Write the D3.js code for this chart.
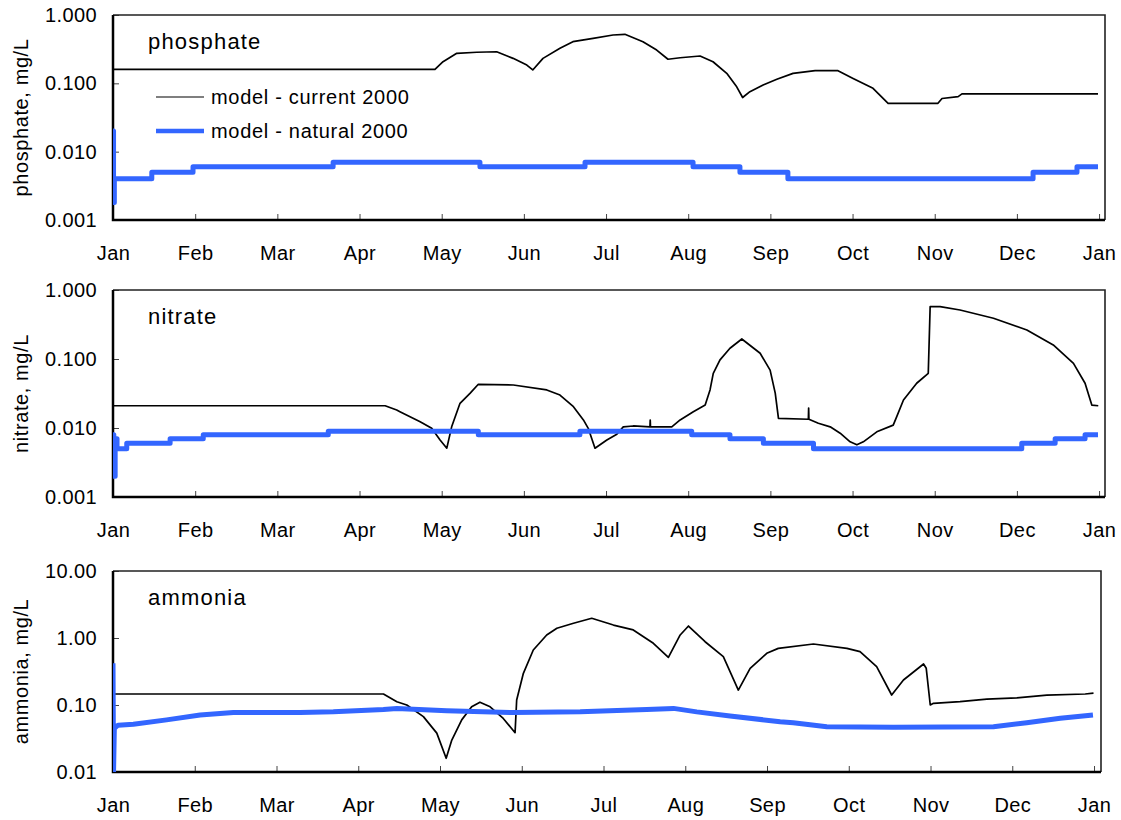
<!DOCTYPE html>
<html>
<head>
<meta charset="utf-8">
<script src="https://cdn.jsdelivr.net/npm/d3@7"></script>
<style>
  body { margin: 0; background: #fff; }
  text { font-family: "Liberation Sans", Arial, sans-serif; fill: #000; }
</style>
</head>
<body>
<div id="chart"></div>
<script>
// tick labels on the date axis (ticks every 30.5 days, as in the original sheet)
const monthLabels = ["Jan","Feb","Mar","Apr","May","Jun","Jul","Aug","Sep","Oct","Nov","Dec","Jan"];
const seriesNames = ["model - current 2000", "model - natural 2000"];

// [day of year 2000, mg/L]
const phosphateCurrent = [
  [0,0.16],[119.5,0.16],[122.5,0.207],[127.6,0.275],[135,0.285],[142.4,0.29],[148.5,0.232],
  [153.6,0.185],[155.8,0.157],[159.6,0.232],[165.9,0.326],[170.7,0.407],[178.2,0.456],
  [185.6,0.51],[190,0.522],[196.7,0.407],[201.8,0.307],[206,0.225],[210.5,0.237],[217.9,0.251],
  [222.7,0.207],[227.8,0.14],[231.5,0.089],[233.7,0.062],[236.4,0.0755],[241.3,0.0946],
  [246.4,0.115],[252.4,0.14],[260.6,0.153],[269.1,0.153],[274.7,0.118],[282.1,0.0846],
  [287.7,0.051],[306.2,0.051],[307.7,0.06],[313.7,0.064],[315.1,0.07],[365.6,0.07]
];
const phosphateNatural = [
  [0,0.02],[0.2,0.0018],[0.5,0.004],[14.4,0.005],[29.7,0.006],[81.7,0.007],[136.2,0.006],
  [175.2,0.007],[215.3,0.006],[232.7,0.005],[250.5,0.004],[341.5,0.005],[357.8,0.006],[365.6,0.006]
];
const nitrateCurrent = [
  [0,0.021],[101,0.021],[105.3,0.0182],[106.5,0.0172],[114,0.0123],[118.3,0.0099],[121.4,0.0067],
  [123.9,0.0051],[125.7,0.0104],[128.8,0.0228],[132.5,0.0318],[135.6,0.043],[148.6,0.042],
  [161,0.0356],[165.9,0.03],[170.9,0.0204],[174.6,0.0131],[176.4,0.0099],[178.9,0.0051],
  [183.3,0.0067],[187,0.0081],[189.4,0.0104],[193.1,0.0107],[199.3,0.0104],[199.4,0.013],
  [199.5,0.0104],[207.4,0.0104],[210.5,0.0131],[215.4,0.0172],[219.8,0.0215],[221.6,0.0356],
  [222.8,0.062],[225.3,0.097],[229,0.143],[233.4,0.195],[240.2,0.121],[243.9,0.069],[245.8,0.032],
  [247,0.0138],[258.1,0.0134],[258.2,0.0195],[258.3,0.0134],[261.8,0.0117],[266.2,0.0104],
  [269.9,0.0084],[273.6,0.0063],[276.1,0.0057],[278.5,0.0063],[283.5,0.0088],[289.6,0.011],
  [290.9,0.0146],[293.4,0.0255],[298.3,0.0445],[302.6,0.062],[303.3,0.573],[307,0.573],
  [314.4,0.513],[326.8,0.389],[339.2,0.263],[349,0.16],[356.5,0.0866],[360.8,0.0445],
  [363.3,0.0215],[365.7,0.021]
];
const nitrateNatural = [
  [0,0.008],[0.3,0.002],[0.8,0.007],[1.5,0.005],[5.1,0.006],[21.2,0.007],[33.5,0.008],
  [79.9,0.009],[135.6,0.008],[173.3,0.009],[214.8,0.008],[229,0.007],[241.4,0.006],[260,0.005],
  [337.3,0.006],[349.7,0.007],[360.8,0.008],[365.6,0.008]
];
const ammoniaCurrent = [
  [0,0.146],[100.9,0.146],[105.9,0.112],[109.6,0.1],[115.8,0.067],[120.8,0.038],[124.3,0.016],
  [126.4,0.03],[130.1,0.06],[133.8,0.094],[136.9,0.11],[140.7,0.094],[145.6,0.063],[150,0.0386],
  [150.6,0.119],[153.1,0.297],[156.8,0.662],[161.8,1.11],[165.6,1.4],[171.8,1.66],[178.6,1.97],
  [186.7,1.56],[194.1,1.32],[201.6,0.833],[207.2,0.515],[211.6,1.11],[214.7,1.51],[220.9,0.88],
  [227.7,0.526],[233.3,0.167],[237.7,0.353],[243.9,0.591],[248.2,0.7],[261.3,0.813],[273.8,0.7],
  [278.7,0.625],[284.9,0.373],[290.5,0.141],[294.9,0.236],[302.4,0.409],[303.4,0.353],[304.9,0.1],
  [306.1,0.106],[316,0.112],[326,0.122],[337.2,0.128],[348.4,0.14],[362.7,0.146],[365.8,0.15]
];
const ammoniaNatural = [
  [0,0.42],[0.2,0.01],[0.5,0.045],[1.9,0.05],[7.6,0.0515],[20,0.06],[32.5,0.071],[44.9,0.077],
  [69.8,0.077],[82.2,0.079],[100.9,0.086],[105.9,0.089],[124.5,0.082],[149.4,0.077],[174.3,0.079],
  [199.1,0.086],[209.1,0.089],[217.8,0.079],[230.2,0.0685],[248.9,0.0563],[253.8,0.0544],
  [266.3,0.0474],[291.2,0.0465],[328.5,0.0474],[340.9,0.0544],[353.4,0.0633],[365.6,0.071]
];

const ticks3 = [0.001, 0.01, 0.1, 1];
const ticksAmm = [0.01, 0.1, 1, 10];

const blue = "#3366ff";

var svg = d3.select("#chart")
    .append("svg")
    .attr("width", 1121)
    .attr("height", 820);

svg.append("rect").attr("width", 1121).attr("height", 820).attr("fill", "#fff");

function Panel(opts){
    var left = 113, top = opts.top, right = opts.right, bottom = opts.bottom;

    var x = d3.scaleLinear().domain([0, opts.dayMax]).range([left, right]);
    var y = d3.scaleLog().domain([opts.ticks[0], opts.ticks[3]]).range([bottom, top]);

    var g = svg.append("g");

    var clipId = "clip-" + opts.name;
    g.append("clipPath").attr("id", clipId)
        .append("rect")
        .attr("x", left).attr("y", top)
        .attr("width", right - left).attr("height", bottom - top);

    var xAxis = d3.axisBottom(x)
        .tickValues(monthLabels.map((m, i) => i * 30.5))
        .tickFormat((d, i) => monthLabels[i])
        .tickSizeInner(-6).tickSizeOuter(0).tickPadding(26);

    var yAxis = d3.axisLeft(y)
        .tickValues(opts.ticks)
        .tickFormat(d3.format(opts.fmt))
        .tickSizeInner(-6).tickSizeOuter(0).tickPadding(16);

    var xg = g.append("g").attr("transform", `translate(0,${bottom})`).call(xAxis);
    var yg = g.append("g").attr("transform", `translate(${left},0)`).call(yAxis);
    [xg, yg].forEach(a => {
        a.select(".domain").remove();
        a.selectAll(".tick line").attr("stroke", "#444");
        a.selectAll("text").style("font-size", "20px").style("letter-spacing", "0.4px").attr("fill", "#000");
    });

    // plot frame
    g.append("path")
        .attr("d", `M${left},${top}H${right}V${bottom}`)
        .attr("fill", "none").attr("stroke", "#222").attr("stroke-width", 1.6);
    g.append("path")
        .attr("d", `M${left},${top}V${bottom}H${right}`)
        .attr("fill", "none").attr("stroke", "#000").attr("stroke-width", 2.5);

    var line = d3.line().x(d => x(d[0])).y(d => y(d[1]));
    var stepLine = d3.line().x(d => x(d[0])).y(d => y(d[1]))
        .curve(opts.stepNatural ? d3.curveStepAfter : d3.curveLinear);

    var plot = g.append("g").attr("clip-path", `url(#${clipId})`);

    plot.append("path").datum(opts.current)
        .attr("d", line)
        .attr("fill", "none").attr("stroke", "#000").attr("stroke-width", 1.7)
        .attr("stroke-linejoin", "round");

    plot.append("path").datum(opts.natural)
        .attr("d", stepLine)
        .attr("fill", "none").attr("stroke", blue).attr("stroke-width", 5)
        .attr("stroke-linejoin", "round");

    g.append("text")
        .attr("x", 148).attr("y", top + 34)
        .style("font-size", "22px").style("letter-spacing", "1.2px")
        .text(opts.name);

    g.append("text")
        .attr("transform", `translate(28,${(top + bottom) / 2}) rotate(-90)`)
        .attr("text-anchor", "middle")
        .style("font-size", "20px").style("letter-spacing", "0.6px")
        .text(opts.name + ", mg/L");

    if (opts.legend) {
        var lg = g.append("g");
        seriesNames.forEach((s, i) => {
            var ly = top + 82 + i * 34;
            lg.append("line")
                .attr("x1", 156).attr("x2", 204).attr("y1", ly).attr("y2", ly)
                .attr("stroke", i === 0 ? "#555" : blue)
                .attr("stroke-width", i === 0 ? 1.6 : 4.5);
            lg.append("text")
                .attr("x", 211).attr("y", ly)
                .attr("dominant-baseline", "central")
                .style("font-size", "20px").style("letter-spacing", "0.7px")
                .text(s);
        });
    }
}

Panel({ name: "phosphate", top: 15, bottom: 220, right: 1105, dayMax: 368.2,
        ticks: ticks3, fmt: ".3f", current: phosphateCurrent, natural: phosphateNatural,
        stepNatural: true, legend: true });
Panel({ name: "nitrate", top: 290, bottom: 497, right: 1105, dayMax: 368.2,
        ticks: ticks3, fmt: ".3f", current: nitrateCurrent, natural: nitrateNatural,
        stepNatural: true });
Panel({ name: "ammonia", top: 571, bottom: 772, right: 1101, dayMax: 368.6,
        ticks: ticksAmm, fmt: ".2f", current: ammoniaCurrent, natural: ammoniaNatural,
        stepNatural: false });
</script>
</body>
</html>
